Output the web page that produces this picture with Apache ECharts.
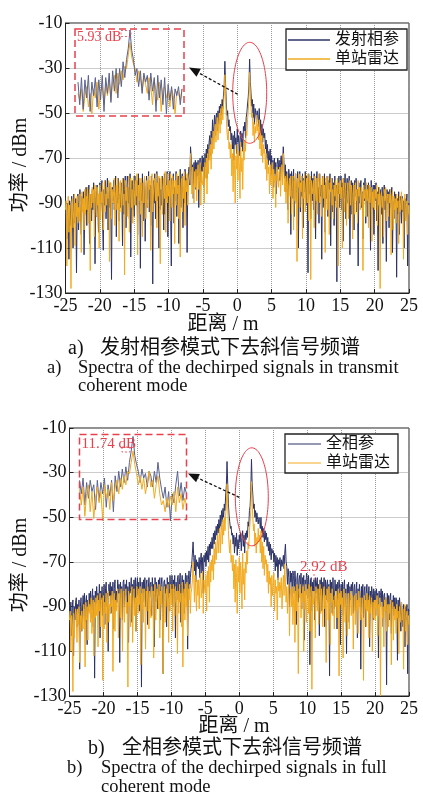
<!DOCTYPE html>
<html><head><meta charset="utf-8">
<script src="https://cdn.jsdelivr.net/npm/echarts@6/dist/echarts.min.js"></script>
<style>html,body{margin:0;padding:0;background:#fff}#c{width:423px;height:795px}</style>
</head><body><div id="c"></div>
<script>
// ---------- data (distance grid: -25 .. 25 m, step 0.1 m; one row = 1 m) ----------
const distStart = -25, distStep = 0.1;
const xTicks = [-25,-20,-15,-10,-5,0,5,10,15,20,25];
const yTicks = [-130,-110,-90,-70,-50,-30,-10];

// a) transmit coherent (发射相参)
const navyA = [
-88,-97,-106,-90,-93,-115,-89,-100,-92,-87,
-95,-110,-86,-91,-99,-88,-121,-93,-86,-102,
-90,-84,-97,-104,-87,-92,-85,-113,-96,-89,
-83,-100,-88,-94,-82,-108,-91,-86,-98,-84,
-93,-81,-89,-117,-85,-96,-82,-90,-103,-87,
-81,-94,-86,-80,-99,-111,-84,-91,-80,-97,
-88,-79,-102,-85,-92,-81,-96,-124,-83,-89,
-80,-93,-87,-78,-105,-84,-90,-79,-98,-86,
-92,-81,-88,-109,-79,-95,-84,-78,-101,-87,
-78,-90,-83,-97,-77,-114,-86,-80,-93,-82,
-96,-78,-85,-91,-80,-104,-77,-88,-83,-119,
-81,-89,-77,-98,-84,-79,-107,-86,-78,-92,
-85,-76,-94,-82,-100,-78,-88,-126,-80,-90,
-77,-97,-83,-76,-89,-81,-110,-79,-93,-84,
-91,-78,-86,-102,-77,-95,-82,-88,-76,-105,
-80,-87,-76,-93,-118,-79,-84,-77,-99,-83,
-89,-76,-96,-81,-78,-108,-85,-75,-92,-80,
-77,-101,-83,-90,-75,-86,-79,-112,-81,-76,
-74,-82,-65,-70,-79,-73,-88,-72,-77,-71,
-84,-72,-78,-71,-92,-73,-70,-81,-74,-69,
-76,-70,-83,-68,-74,-66,-79,-64,-71,-63,
-60,-69,-58,-64,-53,-62,-56,-51,-60,-52,
-50,-58,-49,-55,-47,-53,-46,-51,-44,-48,
-42,-38,-27,-37,-45,-51,-49,-56,-53,-58,
-56,-62,-59,-66,-60,-71,-58,-64,-61,-68,
-57,-63,-60,-69,-62,-58,-65,-59,-67,-56,
-58,-54,-61,-52,-50,-46,-43,-38,-26,-36,
-41,-47,-44,-52,-46,-55,-48,-50,-53,-49,
-51,-56,-48,-58,-53,-60,-55,-63,-57,-61,
-59,-66,-62,-70,-64,-73,-67,-71,-66,-78,
-69,-75,-71,-83,-70,-77,-72,-86,-73,-70,
-75,-71,-80,-72,-69,-76,-73,-65,-72,-79,
-73,-85,-76,-80,-93,-75,-82,-77,-104,-76,
-79,-88,-75,-96,-81,-77,-90,-84,-76,-110,
-82,-76,-94,-80,-87,-77,-101,-79,-85,-76,
-91,-78,-83,-121,-77,-86,-80,-97,-76,-89,
-79,-93,-77,-84,-106,-81,-76,-90,-83,-99,
-77,-87,-82,-115,-78,-92,-85,-77,-103,-81,
-88,-78,-96,-80,-84,-77,-109,-83,-79,-94,
-81,-100,-78,-89,-82,-125,-79,-86,-78,-92,
-84,-78,-93,-81,-107,-79,-88,-77,-97,-85,
-79,-90,-83,-78,-113,-85,-80,-95,-81,-88,
-102,-80,-87,-79,-94,-84,-118,-81,-90,-83,
-80,-92,-85,-106,-81,-89,-79,-99,-86,-82,
-96,-81,-88,-83,-111,-80,-93,-86,-82,-104,
-82,-89,-81,-98,-85,-120,-83,-91,-84,-87,
-95,-83,-108,-86,-82,-93,-88,-116,-84,-90,
-85,-101,-84,-92,-87,-83,-112,-89,-97,-85,
-91,-86,-123,-88,-95,-85,-104,-90,-87,-99,
-87,-94,-89,-110,-88,-97,-91,-86,-118,-92,
-90];
const orangeA = [
-93,-89,-118,-95,-87,-103,-91,-98,-128,-90,
-88,-101,-93,-86,-109,-90,-96,-87,-99,-92,
-98,-86,-91,-112,-85,-94,-88,-102,-84,-95,
-87,-93,-83,-99,-89,-84,-120,-86,-92,-83,
-90,-84,-105,-82,-88,-96,-83,-91,-86,-110,
-82,-97,-85,-90,-81,-102,-87,-80,-94,-86,
-91,-83,-88,-80,-116,-85,-81,-97,-84,-90,
-85,-79,-100,-87,-82,-93,-79,-88,-107,-81,
-80,-94,-84,-79,-91,-86,-122,-80,-89,-83,
-96,-82,-78,-103,-85,-79,-92,-84,-99,-78,
-84,-91,-80,-87,-77,-113,-82,-89,-79,-95,
-79,-86,-105,-81,-90,-78,-85,-97,-80,-88,
-92,-78,-84,-80,-111,-83,-77,-94,-86,-79,
-83,-89,-77,-101,-81,-87,-78,-92,-117,-80,
-78,-95,-84,-79,-88,-76,-103,-82,-90,-77,
-87,-80,-98,-77,-84,-92,-78,-86,-80,-108,
-80,-91,-77,-86,-82,-97,-76,-114,-83,-79,
-94,-78,-88,-76,-100,-80,-85,-77,-91,-82,
-80,-76,-68,-75,-86,-74,-81,-90,-76,-83,
-75,-89,-77,-73,-84,-79,-72,-91,-76,-80,
-82,-74,-90,-72,-79,-70,-86,-68,-77,-66,
-71,-64,-75,-61,-68,-58,-66,-60,-55,-63,
-57,-52,-62,-54,-50,-59,-48,-55,-47,-53,
-46,-42,-33,-41,-52,-58,-62,-57,-66,-63,
-70,-64,-78,-68,-85,-66,-73,-90,-69,-75,
-64,-80,-67,-72,-88,-63,-76,-70,-84,-66,
-71,-62,-67,-58,-60,-53,-49,-44,-32,-41,
-47,-52,-50,-60,-54,-63,-56,-59,-51,-58,
-55,-62,-53,-66,-58,-69,-60,-72,-64,-68,
-66,-75,-68,-80,-71,-77,-74,-86,-73,-82,
-77,-72,-88,-75,-81,-78,-92,-74,-80,-76,
-83,-77,-74,-87,-79,-73,-82,-68,-76,-85,
-78,-90,-80,-77,-99,-82,-79,-87,-78,-95,
-84,-78,-102,-80,-89,-77,-85,-116,-79,-83,
-77,-92,-81,-85,-78,-106,-80,-88,-77,-94,
-83,-79,-90,-77,-98,-82,-78,-124,-80,-86,
-86,-80,-101,-78,-84,-89,-79,-95,-81,-77,
-90,-79,-84,-96,-80,-78,-88,-82,-112,-79,
-80,-93,-78,-86,-104,-81,-85,-79,-91,-84,
-97,-82,-87,-80,-92,-83,-79,-118,-81,-86,
-80,-88,-83,-110,-79,-85,-94,-81,-84,-100,
-89,-81,-97,-84,-80,-91,-82,-86,-106,-83,
-82,-95,-81,-89,-84,-99,-80,-87,-83,-93,
-91,-83,-86,-120,-82,-88,-84,-96,-81,-89,
-84,-101,-82,-90,-86,-83,-107,-85,-92,-84,
-93,-84,-88,-82,-100,-86,-91,-83,-128,-87,
-85,-92,-87,-105,-84,-89,-83,-98,-88,-86,
-96,-86,-90,-84,-113,-88,-85,-102,-87,-93,
-88,-99,-86,-92,-89,-108,-87,-94,-90,-85,
-93,-88,-115,-90,-86,-98,-92,-89,-104,-91,
-95];

// b) full coherent (全相参)
const navyB = [
-89,-95,-88,-103,-91,-87,-112,-90,-96,-88,
-86,-99,-89,-93,-87,-118,-90,-86,-101,-92,
-85,-91,-84,-97,-88,-85,-107,-87,-92,-84,
-90,-83,-95,-86,-82,-99,-85,-122,-83,-89,
-81,-88,-84,-92,-80,-104,-83,-87,-81,-94,
-86,-80,-98,-82,-79,-90,-84,-110,-80,-85,
-79,-93,-81,-87,-79,-100,-82,-78,-91,-83,
-88,-78,-84,-80,-115,-79,-86,-81,-96,-79,
-78,-90,-80,-85,-78,-93,-81,-106,-79,-84,
-82,-77,-97,-80,-86,-78,-89,-77,-101,-81,
-77,-85,-79,-92,-77,-83,-126,-79,-88,-78,
-84,-77,-90,-80,-78,-98,-82,-77,-86,-80,
-79,-94,-77,-83,-80,-108,-77,-88,-79,-82,
-91,-78,-85,-77,-96,-80,-77,-87,-120,-79,
-78,-84,-80,-99,-77,-86,-79,-92,-76,-83,
-85,-76,-90,-78,-82,-76,-104,-79,-87,-77,
-76,-88,-79,-75,-97,-80,-76,-84,-78,-93,
-80,-75,-86,-76,-109,-78,-74,-82,-77,-73,
-71,-66,-61,-68,-74,-67,-79,-69,-72,-70,
-73,-68,-77,-69,-66,-75,-68,-84,-67,-70,
-66,-72,-65,-69,-63,-70,-62,-67,-61,-64,
-59,-64,-57,-62,-56,-60,-54,-58,-53,-57,
-51,-56,-49,-54,-47,-52,-46,-50,-44,-47,
-40,-36,-25,-35,-44,-49,-52,-55,-54,-58,
-57,-62,-58,-66,-59,-63,-57,-67,-60,-64,
-58,-61,-57,-65,-59,-56,-63,-58,-66,-57,
-60,-56,-59,-52,-54,-47,-45,-38,-24,-35,
-40,-46,-44,-50,-47,-52,-48,-51,-53,-50,
-51,-55,-50,-57,-54,-59,-55,-61,-56,-60,
-57,-63,-59,-65,-61,-67,-62,-69,-64,-66,
-65,-70,-66,-74,-67,-72,-68,-78,-69,-71,
-68,-74,-69,-72,-70,-67,-73,-66,-62,-70,
-72,-80,-73,-77,-90,-74,-79,-75,-86,-74,
-76,-84,-74,-79,-98,-77,-75,-88,-78,-76,
-82,-75,-91,-77,-80,-76,-105,-78,-85,-75,
-77,-86,-76,-81,-116,-78,-77,-92,-79,-83,
-78,-96,-77,-84,-79,-77,-89,-80,-103,-78,
-85,-77,-92,-79,-82,-77,-99,-78,-87,-80,
-78,-88,-80,-121,-78,-84,-79,-93,-77,-86,
-91,-78,-83,-80,-100,-79,-87,-78,-82,-107,
-80,-86,-79,-94,-81,-78,-90,-82,-111,-80,
-84,-79,-97,-81,-87,-80,-83,-79,-93,-82,
-80,-92,-83,-79,-104,-82,-88,-80,-85,-118,
-81,-87,-80,-95,-83,-81,-99,-84,-80,-90,
-86,-81,-108,-83,-89,-81,-84,-96,-82,-88,
-83,-94,-82,-86,-84,-113,-83,-90,-85,-82,
-88,-83,-99,-85,-84,-92,-86,-125,-84,-89,
-85,-96,-86,-84,-102,-87,-91,-85,-94,-86,
-92,-86,-89,-114,-87,-95,-86,-90,-101,-88,
-88,-99,-89,-93,-108,-90,-96,-89,-120,-91,
-92];
const orangeB = [
-96,-92,-110,-94,-99,-128,-93,-104,-95,-91,
-93,-106,-91,-98,-90,-115,-94,-101,-92,-97,
-100,-89,-94,-117,-88,-96,-90,-105,-87,-93,
-89,-97,-86,-102,-91,-87,-112,-88,-95,-86,
-94,-85,-108,-87,-92,-84,-99,-89,-86,-123,
-85,-100,-88,-93,-84,-106,-87,-83,-97,-89,
-93,-85,-90,-83,-119,-86,-84,-101,-87,-92,
-87,-82,-104,-88,-84,-95,-82,-91,-110,-84,
-83,-97,-86,-82,-93,-88,-126,-83,-90,-85,
-99,-84,-81,-106,-87,-82,-94,-86,-101,-81,
-86,-93,-82,-89,-81,-116,-84,-91,-82,-97,
-82,-88,-109,-83,-92,-81,-87,-100,-83,-90,
-95,-81,-86,-83,-113,-85,-80,-96,-88,-82,
-85,-91,-80,-104,-83,-89,-81,-94,-120,-83,
-81,-97,-86,-82,-90,-80,-106,-84,-92,-80,
-89,-82,-101,-80,-86,-94,-81,-88,-83,-111,
-83,-93,-80,-88,-84,-99,-79,-117,-85,-82,
-96,-80,-90,-79,-103,-82,-87,-80,-93,-84,
-82,-78,-70,-77,-88,-76,-83,-92,-78,-85,
-78,-91,-79,-75,-86,-81,-74,-93,-78,-82,
-84,-76,-92,-74,-81,-72,-88,-70,-79,-69,
-74,-67,-78,-64,-71,-61,-69,-63,-58,-66,
-60,-55,-66,-57,-53,-62,-51,-58,-50,-56,
-49,-45,-35,-44,-56,-62,-66,-60,-70,-67,
-74,-67,-82,-71,-88,-69,-77,-93,-72,-79,
-68,-84,-70,-76,-91,-66,-80,-73,-87,-70,
-75,-65,-71,-61,-64,-56,-52,-47,-34,-44,
-50,-56,-53,-63,-57,-66,-59,-62,-55,-61,
-58,-66,-56,-70,-61,-73,-63,-76,-67,-71,
-69,-79,-71,-84,-74,-80,-77,-90,-76,-85,
-80,-75,-92,-78,-84,-81,-96,-77,-83,-79,
-86,-80,-77,-91,-82,-76,-85,-71,-79,-88,
-81,-93,-83,-80,-103,-85,-82,-90,-81,-98,
-87,-81,-106,-83,-92,-80,-88,-120,-82,-86,
-80,-95,-84,-88,-81,-110,-83,-91,-80,-97,
-86,-82,-93,-80,-101,-85,-81,-127,-83,-89,
-89,-83,-104,-81,-87,-92,-82,-98,-84,-80,
-93,-82,-87,-99,-83,-81,-91,-85,-115,-82,
-83,-96,-81,-89,-107,-84,-88,-82,-94,-87,
-100,-85,-90,-83,-95,-86,-82,-121,-84,-89,
-83,-91,-86,-113,-82,-88,-97,-84,-87,-103,
-92,-84,-100,-87,-83,-94,-85,-89,-109,-86,
-85,-98,-84,-92,-87,-102,-83,-90,-86,-96,
-94,-86,-89,-123,-85,-91,-87,-99,-84,-92,
-87,-104,-85,-93,-89,-86,-110,-88,-95,-87,
-96,-87,-91,-85,-103,-89,-94,-86,-130,-90,
-88,-95,-90,-108,-87,-92,-86,-101,-91,-89,
-99,-89,-93,-87,-116,-91,-88,-105,-90,-96,
-91,-102,-89,-95,-92,-111,-90,-97,-93,-88,
-96,-91,-118,-93,-89,-101,-95,-92,-107,-94,
-98];

// zoomed insets (distance 0.3 .. 3.3 m, step 0.05 m)
const insetStart = 0.3, insetStep = 0.05;
const insetNavyA = [
-50,-60,-48,-62,-49,-57,-47,-63,-50,-56,
-48,-61,-49,-58,-47,-63,-48,-55,-46,-59,
-45,-54,-44,-57,-44,-52,-41,-48,-40,-35,
-27,-36,-40,-47,-44,-52,-45,-55,-46,-50,
-47,-58,-46,-54,-48,-63,-47,-57,-49,-60,
-48,-64,-51,-58,-52,-62,-53,-56,-52,-60,-53];
const insetOrangeA = [
-55,-58,-53,-63,-56,-52,-61,-55,-64,-53,
-57,-50,-62,-54,-52,-60,-51,-56,-49,-58,
-50,-47,-55,-46,-51,-45,-49,-43,-44,-38,
-32.5,-39,-42,-44,-50,-45,-48,-54,-47,-51,
-55,-48,-52,-60,-49,-54,-58,-50,-63,-53,
-52,-57,-54,-61,-53,-56,-64,-54,-55,-58,-53];
const insetNavyB = [
-44,-50,-43,-55,-45,-52,-44,-49,-46,-57,
-44,-53,-45,-50,-43,-56,-46,-51,-44,-58,
-42,-49,-40,-47,-39,-45,-38,-44,-36,-31,
-24.5,-33,-37,-40,-45,-39,-43,-41,-47,-40,
-42,-47,-40,-45,-36,-43,-48,-52,-47,-56,
-49,-62,-50,-54,-46,-40,-51,-45,-53,-47,-50];
const insetOrangeB = [
-48,-55,-47,-60,-50,-46,-58,-49,-61,-52,
-47,-54,-49,-62,-46,-52,-48,-57,-45,-53,
-47,-44,-50,-43,-48,-42,-46,-40,-41,-36,
-31,-37,-41,-46,-42,-48,-43,-50,-45,-40,
-47,-44,-52,-46,-42,-50,-55,-53,-58,-52,
-56,-51,-55,-49,-58,-47,-54,-50,-57,-52,-55];

const namesA = ['发射相参','单站雷达'];
const namesB = ['全相参','单站雷达'];
const captionA = ['a)', '发射相参模式下去斜信号频谱', 'a)', 'Spectra of the dechirped signals in transmit', 'coherent mode'];
const captionB = ['b)', '全相参模式下去斜信号频谱', 'b)', 'Spectra of the dechirped signals in full', 'coherent mode'];
const diffLabels = ['5.93 dB', '11.74 dB', '2.92 dB'];

// ---------- chart ----------
const SERIF = "'Liberation Serif','Times New Roman','Noto Sans CJK SC',serif";
const NAVY = '#2c3367', ORANGE = '#f2aa1f', RED = '#e8404c';

function pairs(arr, start, step){ return arr.map((v,i)=>[+(start+step*i).toFixed(3), v]); }

function mainX(gi){
  return {type:'value', gridIndex:gi, min:xTicks[0], max:xTicks[xTicks.length-1], interval:5,
    axisLine:{show:true, onZero:false, lineStyle:{color:'#222', width:1}},
    axisTick:{show:true, inside:true, length:4, lineStyle:{color:'#222'}},
    axisLabel:{color:'#111', fontFamily:SERIF, fontSize:18, margin:4},
    splitLine:{show:true, lineStyle:{color:'#999', type:'dotted', width:1}}};
}
function mainY(gi){
  return {type:'value', gridIndex:gi, min:yTicks[0], max:yTicks[yTicks.length-1], interval:20,
    axisLine:{show:true, onZero:false, lineStyle:{color:'#222', width:1}},
    axisTick:{show:true, inside:true, length:4, lineStyle:{color:'#222'}},
    axisLabel:{color:'#111', fontFamily:SERIF, fontSize:18, margin:3},
    splitLine:{show:true, lineStyle:{color:'#999', type:'dotted', width:1}}};
}
function hiddenX(gi){ return {type:'value', gridIndex:gi, min:insetStart, max:insetStart+insetStep*60, show:false}; }
function hiddenY(gi, mn, mx){ return {type:'value', gridIndex:gi, min:mn, max:mx, show:false}; }

function line(name, xi, data, color, z){
  return {name:name, type:'line', xAxisIndex:xi, yAxisIndex:xi, data:data, showSymbol:false, symbol:'none',
    lineStyle:{color:color, width:1}, itemStyle:{color:color}, z:z, animation:false, silent:true};
}

function ellipse(cx, cy, rx, ry){
  const pts = [];
  for (let k=0;k<96;k++){ const t = k/96*Math.PI*2; pts.push([cx+rx*Math.cos(t), cy+ry*Math.sin(t)]); }
  return {type:'polygon', shape:{points:pts}, style:{fill:null, stroke:RED, lineWidth:1}, z:100};
}
function arrow(x1,y1,x2,y2){
  const dx=x2-x1, dy=y2-y1, L=Math.hypot(dx,dy), ux=dx/L, uy=dy/L, h=11, w=4.5;
  const bx=x2-ux*h, by=y2-uy*h;
  return [
    {type:'line', shape:{x1:x1,y1:y1,x2:bx,y2:by}, style:{stroke:'#111', lineWidth:1.3, lineDash:[3,2]}, z:100},
    {type:'polygon', shape:{points:[[x2,y2],[bx-uy*w,by+ux*w],[bx+uy*w,by-ux*w]]}, style:{fill:'#111'}, z:100}
  ];
}
function dashBox(x,y,w,h,lw,dash){ return {type:'rect', shape:{x:x,y:y,width:w,height:h}, style:{fill:null, stroke:RED, lineWidth:lw, lineDash:dash}, z:100}; }
function txt(t,x,y,size,color,align,rot){
  const o = {type:'text', x:x, y:y, style:{text:t, font:size+'px '+SERIF, fill:color||'#111', textAlign:align||'left', textVerticalAlign:'middle'}, z:100};
  if (rot) o.rotation = rot;
  return o;
}
const LEG_ICON = 'path://M0,0H60V2H0Z';

const option = {
  backgroundColor:'#fff',
  animation:false,
  grid:[
    {left:65.5, top:23, width:343.5, height:270, show:true, borderColor:'#222', borderWidth:1, backgroundColor:'transparent'},
    {left:69.5, top:428, width:339.5, height:268, show:true, borderColor:'#222', borderWidth:1, backgroundColor:'transparent'},
    {left:78, top:29, width:104, height:87},
    {left:79.5, top:434, width:107, height:89}
  ],
  xAxis:[mainX(0), mainX(1), hiddenX(2), hiddenX(3)],
  yAxis:[mainY(0), mainY(1), hiddenY(2,-65,-26.5), hiddenY(3,-63,-23.4)],
  legend:[
    {data:namesA, icon:LEG_ICON, orient:'vertical', right:16, top:29, itemWidth:42, itemHeight:14, itemGap:3,
     padding:[3,8,3,2], borderColor:'#222', borderWidth:1.3, backgroundColor:'#fff',
     textStyle:{fontFamily:SERIF, fontSize:16, color:'#111'}, selectedMode:false},
    {data:namesB, icon:LEG_ICON, orient:'vertical', right:25, top:434, itemWidth:33, itemHeight:14, itemGap:3,
     padding:[2,8,2,3], borderColor:'#222', borderWidth:1.3, backgroundColor:'#fff',
     textStyle:{fontFamily:SERIF, fontSize:16, color:'#111'}, selectedMode:false}
  ],
  series:[
    line(namesA[0], 0, pairs(navyA, distStart, distStep), NAVY, 2),
    line(namesA[1], 0, pairs(orangeA, distStart, distStep), ORANGE, 3),
    line(namesB[0], 1, pairs(navyB, distStart, distStep), NAVY, 2),
    line(namesB[1], 1, pairs(orangeB, distStart, distStep), ORANGE, 3),
    line('insetA-navy', 2, pairs(insetNavyA, insetStart, insetStep), '#5a628f', 4),
    line('insetA-orange', 2, pairs(insetOrangeA, insetStart, insetStep), ORANGE, 3),
    line('insetB-navy', 3, pairs(insetNavyB, insetStart, insetStep), '#5a628f', 3),
    line('insetB-orange', 3, pairs(insetOrangeB, insetStart, insetStep), ORANGE, 4)
  ],
  graphic:[].concat(
    [dashBox(75,29,109,87,1.5,[7,4]), dashBox(79.5,434.5,107,85,1.5,[7,4])],
    [ellipse(249.7,92.8,17,50.5), ellipse(251.8,496.8,16.5,49)],
    arrow(237.7,94.3,189,67.5), arrow(239.3,497.3,188,473.5),
    [txt(diffLabels[0],77,37,14,RED), dashBox(121,30.5,10,6,0.8,[2,2]),
     txt(diffLabels[1],81.5,444,15,RED), dashBox(122,447,8,5,0.8,[2,2]),
     txt(diffLabels[2],300,567,15,RED),
     {type:'line', shape:{x1:314,y1:574,x2:314,y2:582}, style:{stroke:RED, lineWidth:0.8, lineDash:[2,2]}, z:100}],
    [txt('功率 / dBm',21,165,20,'#111','center',Math.PI/2), txt('距离 / m',223,325,20,'#111','center'),
     txt('功率 / dBm',21,565,20,'#111','center',Math.PI/2), txt('距离 / m',234,727,20,'#111','center')],
    [txt(captionA[0],68,349,20), txt(captionA[1],100,349,20),
     txt(captionA[2],47,368,18.5), txt(captionA[3],78,368,18.5), txt(captionA[4],78,386,18.5),
     txt(captionB[0],88,749,20), txt(captionB[1],122,749,20),
     txt(captionB[2],67,768,18.5), txt(captionB[3],101,768,18.5), txt(captionB[4],101,787,18.5)]
  )
};
const chart = echarts.init(document.getElementById('c'), null, {renderer:'canvas'});
chart.setOption(option);
</script></body></html>
